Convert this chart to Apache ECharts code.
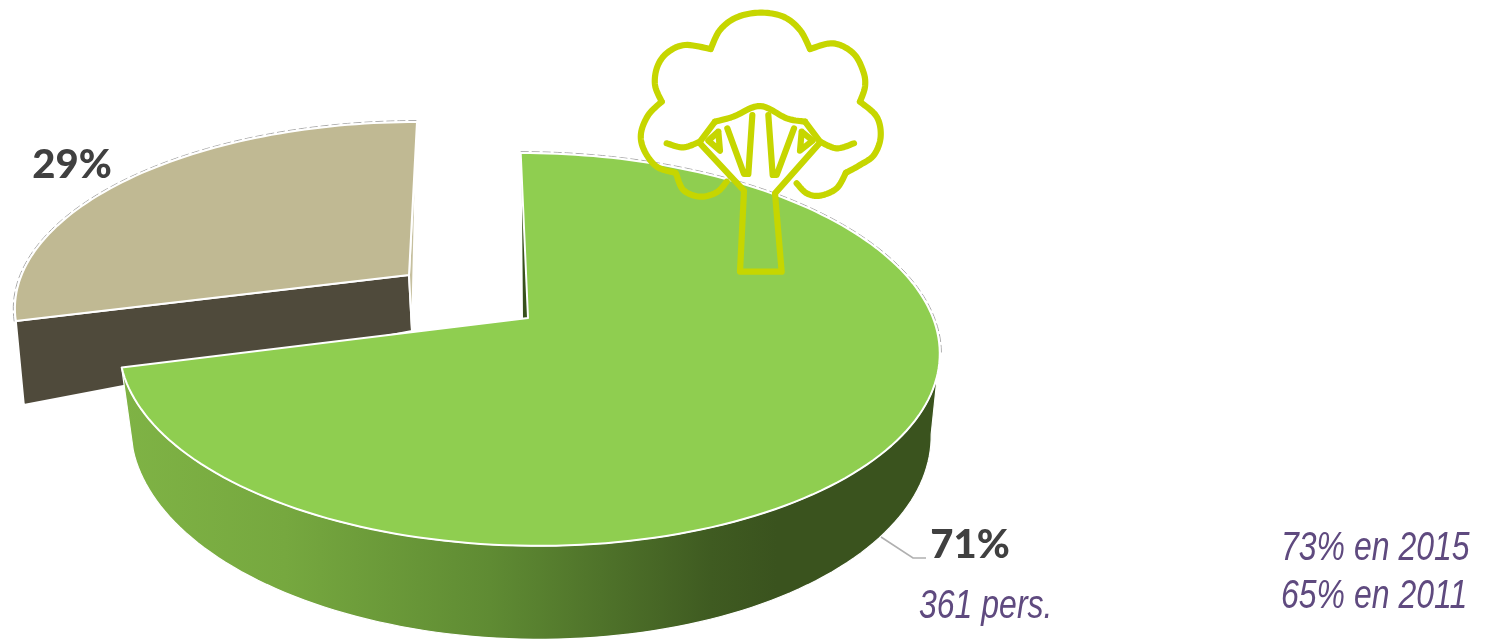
<!DOCTYPE html>
<html><head><meta charset="utf-8">
<style>html,body{margin:0;padding:0;background:#fff}#c{width:1492px;height:639px}</style>
<script src="https://cdn.jsdelivr.net/npm/echarts@6/dist/echarts.min.js"></script>
</head><body><div id="c"></div>
<script>
const categories = ['71%', '29%'];
const shares = [71, 29];
const caption = '361 pers.';
const history = ['73% en 2015', '65% en 2011'];

// projection of the unit disc: x=(a*u+b*v+cx)/(1+g*v), y=(e*v+cy)/(1+g*v)
const views = [
  { top:{cx:528,cy:318,a:405,b:-76,e:140.5,g:-.16}, bot:{cx:529.5,cy:398,a:395,b:-76,e:139,g:-.16},
    rimTop:100, rimBot:100, sliver:[[-5,0],[1,18]],
    fill:'#8fce50', side:'#37501c', label:[970,545] },
  { top:{cx:409,cy:275,a:387.4,b:-74.7,e:133.5,g:-.16}, apexDrop:[3,56], cornerDrop:[8,84],
    fill:'#c0b993', side:'#4f4a3b', sliver:'#c6c09f', label:[72,165] }
];
const project = (p, deg) => {
  const t = deg*Math.PI/180, u = Math.sin(t), v = -Math.cos(t), w = 1+p.g*v;
  return [(p.a*u+p.b*v+p.cx)/w, (p.e*v+p.cy)/w];
};
const arc = (p, from, to) => {
  const pts = [], n = Math.max(2, Math.ceil(Math.abs(to-from)/1.5));
  for (let i=0;i<=n;i++) pts.push(project(p, from+(to-from)*i/n));
  return pts;
};
const total = shares.reduce((a,b)=>a+b,0);
const rimGradient = new echarts.graphic.LinearGradient(0,0,1,0,[
  {offset:0,color:'#7fb345'},{offset:.2,color:'#76a83f'},{offset:.45,color:'#5f8b33'},
  {offset:.72,color:'#3f5b21'},{offset:.8,color:'#3a531e'},{offset:1,color:'#3a531e'}]);

const treeSmooth = [
  [[165,518],[110,500],[72,450],[63,400],[85,345],[125,305]],
  [[125,305],[105,255],[112,200],[142,158],[195,135],[272,147]],
  [[272,147],[300,90],[350,52],[420,38],[490,50],[540,90],[570,147]],
  [[570,147],[640,130],[700,160],[730,215],[735,260],[720,305]],
  [[720,305],[770,350],[782,410],[762,465],[720,495],[678,518]],
  [[678,518],[650,565],[600,587],[560,580],[530,550]],
  [[168,520],[190,570],[240,590],[290,577],[320,545]],
  [[140,430],[190,442],[240,425]],
  [[600,425],[650,445],[702,430]],
  [[285,365],[340,350],[420,318],[500,355],[555,365]]
];
const treeStraight = [
  [[240,430],[372,572],[360,815],[485,815],[465,580],[600,428]],
  [[240,425],[285,365]],
  [[555,365],[600,425]],
  [[295,395],[265,422],[300,452],[295,395]],
  [[322,385],[372,522],[385,522],[397,345]],
  [[445,345],[458,525],[470,525],[522,385]],
  [[545,395],[540,452],[578,422],[545,395]]
];
const smoothLine = pts => {
  const out = [];
  for (let i=0;i<pts.length-1;i++){
    const p0=pts[Math.max(i-1,0)],p1=pts[i],p2=pts[i+1],p3=pts[Math.min(i+2,pts.length-1)];
    for (let k=0;k<10;k++){
      const t=k/10,t2=t*t,t3=t2*t;
      out.push([0,1].map(d=>.5*(2*p1[d]+(p2[d]-p0[d])*t+(2*p0[d]-5*p1[d]+4*p2[d]-p3[d])*t2+(3*p1[d]-p0[d]-3*p2[d]+p3[d])*t3)));
    }
  }
  out.push(pts[pts.length-1]);
  return out;
};
const treeEl = pts => ({
  type:'polyline', silent:true, z2:10,
  shape:{points:pts.map(q=>[620+q[0]/3,q[1]/3])},
  style:{fill:null, stroke:'#c6d600', lineWidth:6.2, lineCap:'round', lineJoin:'round'}
});

function renderItem(params, api){
  const i = params.dataIndex;
  const before = shares.slice(0,i).reduce((a,b)=>a+b,0);
  const from = before/total*360, to = (before+api.value(0))/total*360;
  const view = views[i], z = i===0?5:1, kids = [];
  const apex = [view.top.cx, view.top.cy];
  const edge = arc(view.top, from, to);
  const base = {stroke:'#fff', lineWidth:2, lineJoin:'round'};
  if (view.bot) {
    kids.push({type:'polygon', z2:z, shape:{points:[
        ...arc(view.top, view.rimTop, to), ...arc(view.bot, to, view.rimBot)]},
      style:{fill:rimGradient, stroke:'#fff', lineWidth:1.2}});
    const s = edge[0];
    kids.push({type:'polygon', z2:z, shape:{points:[
        s, apex, [apex[0]+view.sliver[0][0],apex[1]+view.sliver[0][1]],
        [s[0]+view.sliver[1][0],s[1]+view.sliver[1][1]]]},
      style:{fill:view.side}});
  } else {
    const c = edge[edge.length-1], e = edge[0];
    kids.push({type:'polygon', z2:z, shape:{points:[
        e, apex, [apex[0]+view.apexDrop[0],apex[1]+view.apexDrop[1]],
        [e[0]+view.cornerDrop[0],e[1]+view.cornerDrop[1]]]},
      style:{fill:view.side, ...base}});
    kids.push({type:'polygon', z2:z, shape:{points:[
        c, apex, [apex[0]+view.apexDrop[0],apex[1]+view.apexDrop[1]]]},
      style:{fill:view.sliver, ...base}});
  }
  // grey broken back edge
  const backTo = view.bot ? view.rimTop : to;
  kids.push({type:'polyline', z2:z, shape:{points:arc({...view.top,a:view.top.a+1.6,e:view.top.e+1.6}, from, backTo)},
    style:{fill:null, stroke:'#a8a8a8', lineWidth:1, lineDash:[8,3]}});
  kids.push({type:'polygon', z2:z+1, shape:{points:[apex, ...edge]},
    style:{fill:view.fill, ...base}});
  kids.push({type:'text', z2:9, x:view.label[0], y:view.label[1],
    style:{text:categories[i], font:'900 40px Lato, "Open Sans", sans-serif',
      fill:'#404040', align:'center', verticalAlign:'middle'}});
  return {type:'group', children:kids};
}

const chart = echarts.init(document.getElementById('c'), null, {renderer:'canvas'});
const purple = '#5f4a7f';
const italic = 'italic 40px "Liberation Sans", sans-serif';
const note = (text, x, y) => ({type:'text', z:10, x, y, scaleX:.8,
  style:{text, font:italic, fill:purple, verticalAlign:'middle'}});
chart.setOption({
  animation:false, backgroundColor:'#fff',
  series:[{type:'custom', coordinateSystem:'none', renderItem,
    data:shares.map((v,k)=>({name:categories[k], value:[v]}))},
    {type:'custom', coordinateSystem:'none', z:5, data:[[0]],
     renderItem:()=>({type:'group', children:[
       ...treeSmooth.map(s=>treeEl(smoothLine(s))), ...treeStraight.map(s=>treeEl(s))]})}],
  graphic:[
    {type:'polyline', z:10, shape:{points:[[881,537],[913,558],[926,558]]},
      style:{fill:null, stroke:'#b0b0b0', lineWidth:1.6}},
    note(caption, 919, 607),
    note(history[0], 1281, 549),
    note(history[1], 1281, 597)
  ]
});
</script></body></html>
